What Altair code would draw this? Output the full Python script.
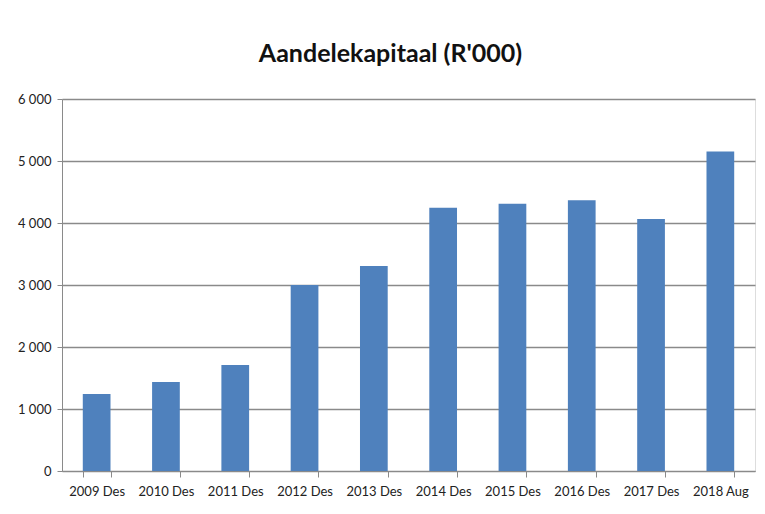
import altair as alt
import pandas as pd

categories = ["2009 Des", "2010 Des", "2011 Des", "2012 Des", "2013 Des",
              "2014 Des", "2015 Des", "2016 Des", "2017 Des", "2018 Aug"]
values = [1240, 1435, 1710, 3000, 3305, 4245, 4310, 4365, 4065, 5155]
y_ticks = [0, 1000, 2000, 3000, 4000, 5000, 6000]

df = pd.DataFrame({"periode": categories, "waarde": values})

FONT = "Lato"

chart = alt.Chart(df).mark_bar(color="#4F81BD").encode(
    x=alt.X("periode:N", sort=categories, title=None,
            scale=alt.Scale(paddingInner=0.6, paddingOuter=0.3),
            axis=alt.Axis(labelAngle=0, tickBand="extent", domainColor="#8a8a8a",
                          tickColor="#8a8a8a", tickSize=6, labelPadding=8,
                          labelFontSize=13, labelColor="#222222", labelFont=FONT)),
    y=alt.Y("waarde:Q", title=None,
            scale=alt.Scale(domain=[0, 6000], nice=False),
            axis=alt.Axis(values=y_ticks, grid=True, gridColor="#8a8a8a", gridWidth=1.3,
                          domainColor="#8a8a8a", tickColor="#8a8a8a", tickSize=5,
                          labelPadding=6, labelFontSize=13, labelColor="#222222",
                          labelFont=FONT,
                          labelExpr="replace(format(datum.value, ','), ',', ' ')")),
).properties(
    width=693,
    height=372,
    padding={"left": 54, "top": 91, "right": 2, "bottom": 40},
    autosize=alt.AutoSizeParams(type="none"),
    title=alt.TitleParams("Aandelekapitaal (R'000)", font=FONT, fontSize=25,
                          fontWeight="bold", color="#111111", offset=26, dx=-18),
).configure_view(stroke=None).configure(background="white")

chart.save("out.html", embed_options={"renderer": "svg", "actions": False})
